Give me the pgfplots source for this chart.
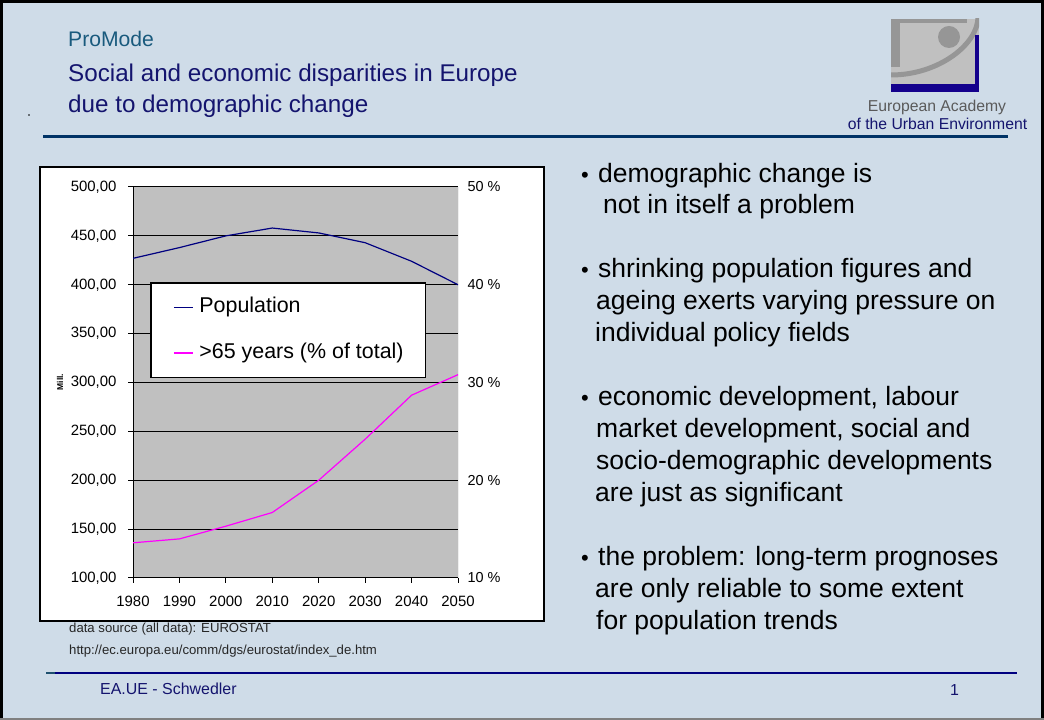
\documentclass[border=0pt]{standalone}
\usepackage{fontspec}
\setmainfont{Liberation Sans}
\usepackage{pgfplots}
\usepackage{pgfplotstable}
\pgfplotsset{compat=1.18}
\definecolor{slidebg}{RGB}{207,220,232}
\definecolor{titleblue}{RGB}{20,20,110}
\definecolor{promode}{RGB}{25,90,125}
\definecolor{headline}{RGB}{0,51,102}
\definecolor{footline}{RGB}{0,0,128}
\definecolor{footteal}{RGB}{30,80,110}
\definecolor{chartgrey}{RGB}{192,192,192}
\definecolor{logolight}{RGB}{192,192,192}
\definecolor{logodark}{RGB}{150,150,150}
\definecolor{logonavy}{RGB}{20,0,140}
\definecolor{academygrey}{RGB}{90,90,90}
\definecolor{popblue}{RGB}{0,0,128}
\definecolor{oldmag}{RGB}{255,0,255}
\newcommand\fs[2]{\fontsize{#1}{#2}\selectfont}

\pgfplotstableread{
year pop
1980 427
1990 438
2000 450
2010 458
2020 453
2030 443
2040 424
2050 400
}\poptable

\pgfplotstableread{
year old
1980 13.6
1990 14.0
2000 15.3
2010 16.7
2020 20.0
2030 24.2
2040 28.7
2050 30.8
}\oldtable

\begin{document}
\begin{tikzpicture}[x=1bp,y=1bp]
\path[use as bounding box] (0,0) rectangle (1044,720);
\fill[slidebg] (0,0) rectangle (1044,720);
% slide frame
\draw[black, line width=3bp] (1.5,1) -- (1.5,718.5) -- (1042.5,718.5) -- (1042.5,1);
\draw[gray, line width=2bp] (0,1) -- (1044,1);

% header
\node[anchor=base west, inner sep=0pt, text=promode, font=\fs{21.2}{25}] at (68,673) {ProMode};
\node[anchor=base west, inner sep=0pt, text=titleblue, font=\fs{24.3}{29}] at (68,638.5) {Social and economic disparities in Europe};
\node[anchor=base west, inner sep=0pt, text=titleblue, font=\fs{24.3}{29}] at (68,607) {due to demographic change};
\fill[black] (29,605) circle (0.8);
\draw[headline, line width=3.3bp] (43,583.3) -- (1008,583.3);

% logo
\begin{scope}
\clip (891,628) rectangle (979,701);
\fill[logolight] (891,628) rectangle (979,701);
\fill[logodark] (891,697) rectangle (967,701);
\fill[logodark] (891,653) rectangle (900,701);
\fill[logodark] (949,683) circle (11);
\draw[logodark, line width=5bp] (891,645) .. controls (939,645) and (978,676) .. (978,703);
\fill[logonavy] (891,628) rectangle (979,636);
\fill[logonavy] (975,628) rectangle (979,685);
\end{scope}
\node[anchor=base, inner sep=0pt, text=academygrey, font=\fs{15.8}{19}] at (937,608) {European Academy};
\node[anchor=base, inner sep=0pt, text=titleblue, font=\fs{15.8}{19}] at (937.5,590) {of the Urban Environment};

% chart box
\draw[black, line width=2bp, fill=white] (40,99) rectangle (544,553);
\node[rotate=90, inner sep=0pt, font=\bfseries\fs{8.5}{10}] at (60,338) {Mill.};

\begin{axis}[
  at={(133bp,142bp)}, anchor=south west, scale only axis,
  width=325bp, height=391bp,
  xmin=1980, xmax=2050, ymin=100, ymax=500,
  axis x line*=bottom, axis y line*=left,
  axis line style={-, black, line width=1bp},
  xtick={1980,1990,2000,2010,2020,2030,2040,2050},
  xticklabels={1980,1990,2000,2010,2020,2030,2040,2050},
  ytick={100,150,200,250,300,350,400,450,500},
  yticklabels={{100,00},{150,00},{200,00},{250,00},{300,00},{350,00},{400,00},{450,00},{500,00}},
  tick align=outside, major tick length=5bp,
  tick style={black, line width=1bp},
  ymajorgrids, grid style={black, line width=1bp},
  axis background/.style={fill=chartgrey},
  tick label style={font=\fs{15}{18}},
  yticklabel style={xshift=-8bp},
  xticklabel style={yshift=-10bp},
  /pgf/number format/assume math mode=true,
]
\draw[gray, line width=1bp] (rel axis cs:1,0) -- (rel axis cs:1,1);
\addplot[draw=popblue, line width=1.2bp] table[x=year, y=pop] {\poptable};
\end{axis}

\begin{axis}[
  at={(133bp,142bp)}, anchor=south west, scale only axis,
  width=325bp, height=391bp,
  xmin=1980, xmax=2050, ymin=10, ymax=50,
  axis x line=none, axis y line*=right,
  y axis line style={draw=none},
  ytick={10,20,30,40,50},
  yticklabels={10 \%,20 \%,30 \%,40 \%,50 \%},
  major tick length=0pt, tick style={draw=none},
  yticklabel style={font=\fs{14.5}{17}, xshift=6bp},
  legend cell align=left,
  legend image code/.code={\draw[#1] (0bp,0bp) -- (19bp,0bp);},
  legend style={at={(0.0554,0.7545)}, anchor=north west, draw=none,
    fill=white, inner xsep=22bp, inner ysep=14bp, name=leg,
    row sep=25bp, column sep=6bp, font=\fs{21.5}{25},
    nodes={inner sep=0pt, text height=15.5bp, text depth=5bp}},
]
\addlegendimage{draw=popblue, line width=1.2bp}
\addlegendentry{Population}
\addplot[draw=oldmag, line width=1.2bp] table[x=year, y=old] {\oldtable};
\addlegendentry{>65 years (\% of total)}
\end{axis}
\draw[black, line width=1.2bp] (leg.south west) rectangle (leg.north east);

% sources
\node[anchor=base west, inner sep=0pt, text=black!85, font=\fs{13.2}{16}] at (69,87) {data source (all data): EUROSTAT};
\node[anchor=base west, inner sep=0pt, text=black!85, font=\fs{13.2}{16}] at (69,65) {http://ec.europa.eu/comm/dgs/eurostat/index\_de.htm};

% bullets
\begin{scope}[every node/.style={anchor=base west, inner sep=0pt, font=\fs{26.6}{32}}]
\node at (581,537) {\fs{22}{26}•};
\node at (598,537) {demographic change is};
\node at (603,506) {not in itself a problem};
\node at (581,442) {\fs{22}{26}•};
\node at (598,442) {shrinking population figures and};
\node at (596,410) {ageing exerts varying pressure on};
\node at (595,378) {individual policy fields};
\node at (581,314) {\fs{22}{26}•};
\node at (598,314) {economic development, labour};
\node at (596,282) {market development, social and};
\node at (596,250) {socio-demographic developments};
\node at (595,218) {are just as significant};
\node at (581,154) {\fs{22}{26}•};
\node at (598,154) {the problem: long-term prognoses};
\node at (595,122) {are only reliable to some extent};
\node at (596,90) {for population trends};
\end{scope}

% footer
\fill[footline] (46,45.8) rectangle (1017,48.3);
\fill[footteal] (46,45.8) rectangle (55,48.3);
\node[anchor=base west, inner sep=0pt, text=titleblue, font=\fs{16}{19}] at (100,25) {EA.UE - Schwedler};
\node[anchor=base west, inner sep=0pt, text=titleblue, font=\fs{16}{19}] at (950,24) {1};
\end{tikzpicture}
\end{document}
